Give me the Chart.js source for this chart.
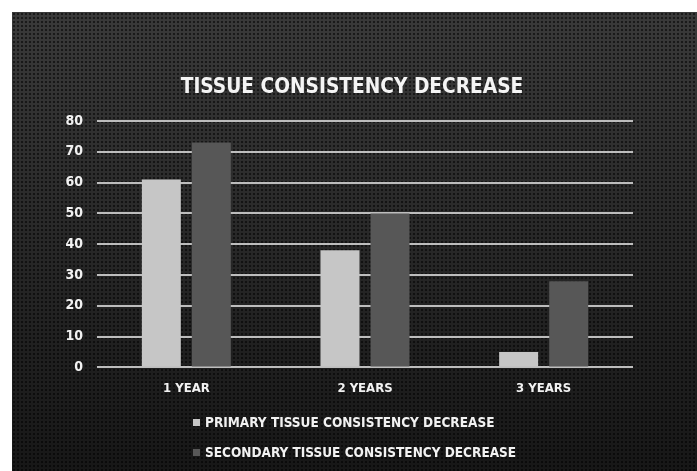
<!DOCTYPE html>
<html>
<head>
<meta charset="utf-8">
<script src="https://cdn.jsdelivr.net/npm/chart.js@4"></script>
<style>
  html, body { margin: 0; padding: 0; background: #fff; }
  #panel {
    position: absolute; left: 12px; top: 12px; width: 685px; height: 459px;
    background-color: #262626;
    background-image:
      radial-gradient(circle, rgba(0,0,0,0.55) 1px, transparent 1.6px),
      linear-gradient(180deg, #3a3a3a 0%, #2a2a2a 45%, #171717 100%);
    background-size: 4px 4px, 100% 100%;
  }
  #panel canvas { position: absolute; left: 0; top: 0; }
</style>
</head>
<body>
<div id="panel"><canvas id="chart" width="685" height="459"></canvas></div>
<script>
// Daten
const categories = ['1 YEAR', '2 YEARS', '3 YEARS'];
const seriesNames = ['PRIMARY TISSUE CONSISTENCY DECREASE', 'SECONDARY TISSUE CONSISTENCY DECREASE'];
const primaryValues = [61, 38, 5];
const secondaryValues = [73, 50, 28];
const yTicks = [0, 10, 20, 30, 40, 50, 60, 70, 80];
const chartTitle = 'TISSUE CONSISTENCY DECREASE';

const FONT = "'Liberation Sans Narrow', 'DejaVu Sans Condensed', Roboto, sans-serif";

// Titel und Legende (untereinander, links ausgerichtet)
const slideText = {
    id: 'slideText',
    afterDraw(chart) {
        const ctx = chart.ctx;
        ctx.save();
        ctx.textBaseline = 'middle';

        ctx.font = 'bold 20.7px ' + FONT;
        ctx.fillStyle = '#f4f4f4';
        ctx.textAlign = 'center';
        ctx.fillText(chartTitle, 340, 76);

        ctx.font = 'bold 13.5px ' + FONT;
        ctx.textAlign = 'left';
        chart.data.datasets.forEach((ds, i) => {
            const y = 411 + i * 30;
            ctx.fillStyle = ds.backgroundColor;
            ctx.fillRect(181, y - 4, 7, 7);
            ctx.fillStyle = '#f2f2f2';
            ctx.fillText(ds.label, 193, y);
        });
        ctx.restore();
    }
};

new Chart(document.getElementById('chart'), {
    type: 'bar',
    data: {
        labels: categories,
        datasets: [{
            label: seriesNames[0],
            data: primaryValues,
            backgroundColor: '#c6c6c6',
            categoryPercentage: 0.56,
            barPercentage: 0.78
        }, {
            label: seriesNames[1],
            data: secondaryValues,
            backgroundColor: '#575757',
            categoryPercentage: 0.56,
            barPercentage: 0.78
        }]
    },
    options: {
        responsive: false,
        animation: false,
        layout: { padding: { left: 45, right: 64, top: 109, bottom: 70 } },
        plugins: {
            legend: { display: false },
            tooltip: { enabled: false },
            title: { display: false }
        },
        scales: {
            x: {
                grid: { display: false },
                border: { display: false },
                ticks: {
                    color: '#f2f2f2',
                    font: { family: FONT, size: 13, weight: 'bold' },
                    padding: 5
                }
            },
            y: {
                min: 0,
                max: 80,
                afterFit: s => { s.width = 40; },
                afterBuildTicks: s => { s.ticks = yTicks.map(v => ({ value: v })); },
                grid: { color: '#bdbdbd', lineWidth: 2, drawTicks: false },
                border: { display: false },
                ticks: {
                    color: '#f2f2f2',
                    font: { family: FONT, size: 14, weight: 'bold' },
                    padding: 14
                }
            }
        }
    },
    plugins: [slideText]
});
</script>
</body>
</html>
